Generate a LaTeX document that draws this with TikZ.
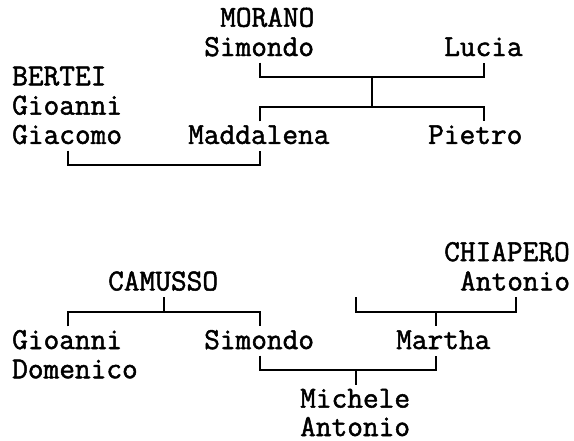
\documentclass[tikz,border=0pt]{standalone}
\usepackage{fontspec}
\newfontfamily\famtree[FakeBold=1.6]{Latin Modern Mono}
\begin{document}
\begin{tikzpicture}[x=1pt,y=-1pt,
  person/.style={inner sep=0pt,anchor=base west,text depth=0pt,font=\famtree\fontsize{30.48}{32}\selectfont},
  link/.style={line width=2pt,line cap=butt,line join=miter}]
\useasboundingbox (0,0) rectangle (574,440);
% ---- first family ----
\node[person] (morano) at (220,26.7) {MORANO};
\node[person] (simondoA) at (204,56) {Simondo};
\node[person] (lucia) at (444,56) {Lucia};
\node[person] (berteiA) at (12,85.3) {BERTEI};
\node[person] (berteiB) at (12,114.6) {Gioanni};
\node[person] (berteiC) at (12,143.9) {Giacomo};
\node[person] (maddalena) at (188,143.9) {Maddalena};
\node[person] (pietro) at (428,143.9) {Pietro};
\coordinate (sA) at (260,62.6);
\coordinate (sB) at (260,77.3);
\coordinate (lA) at (484,62.6);
\coordinate (lB) at (484,77.3);
\coordinate (mA) at (372,77.3);
\coordinate (mB) at (372,106.6);
\coordinate (cA) at (260,106.6);
\coordinate (cB) at (260,121.25);
\coordinate (pA) at (484,106.6);
\coordinate (pB) at (484,121.25);
\coordinate (gA) at (68,150.5);
\coordinate (gB) at (68,165.2);
\coordinate (dA) at (260,150.5);
\coordinate (dB) at (260,165.2);
\draw[link] (sA) -- (sB) -- (lB) -- (lA);
\draw[link] (mA) -- (mB);
\draw[link] (cB) -- (cA) -- (pA) -- (pB);
\draw[link] (gA) -- (gB) -- (dB) -- (dA);
% ---- second family ----
\node[person] (chiapero) at (444,261.1) {CHIAPERO};
\node[person] (antonioA) at (460,290.4) {Antonio};
\node[person] (camusso) at (108,290.4) {CAMUSSO};
\node[person] (gioanni) at (12,349) {Gioanni};
\node[person] (domenico) at (12,378.3) {Domenico};
\node[person] (simondoB) at (204,349) {Simondo};
\node[person] (martha) at (396,349) {Martha};
\node[person] (michele) at (300,407.6) {Michele};
\node[person] (antonioB) at (300,436) {Antonio};
\coordinate (kA) at (164,297);
\coordinate (kB) at (164,311.7);
\coordinate (gC) at (68,326.35);
\coordinate (gD) at (68,311.7);
\coordinate (sC) at (260,311.7);
\coordinate (sD) at (260,326.35);
\coordinate (hA) at (356,297);
\coordinate (hB) at (356,311.7);
\coordinate (hC) at (516,311.7);
\coordinate (hD) at (516,297);
\coordinate (tA) at (436,311.7);
\coordinate (tB) at (436,326.35);
\coordinate (uA) at (260,355.65);
\coordinate (uB) at (260,370.3);
\coordinate (vA) at (436,355.65);
\coordinate (vB) at (436,370.3);
\coordinate (wA) at (356,370.3);
\coordinate (wB) at (356,385);
\draw[link] (gC) -- (gD) -- (sC) -- (sD);
\draw[link] (kA) -- (kB);
\draw[link] (hA) -- (hB) -- (hC) -- (hD);
\draw[link] (tA) -- (tB);
\draw[link] (uA) -- (uB) -- (vB) -- (vA);
\draw[link] (wA) -- (wB);
\end{tikzpicture}
\end{document}
